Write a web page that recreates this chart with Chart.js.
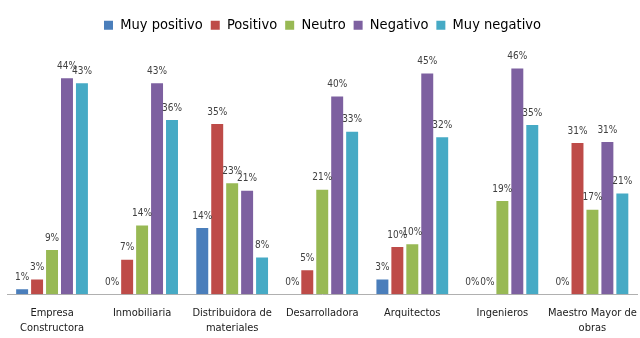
<!DOCTYPE html>
<html lang="es">
<head>
<meta charset="UTF-8">
<title>Opiniones por sector</title>
<script src="https://cdn.jsdelivr.net/npm/chart.js"></script>
<style>
  html, body { margin: 0; padding: 0; background: #fff; }
  #wrap { width: 640px; height: 338px; }
</style>
</head>
<body>
<div id="wrap"><canvas id="myChart" width="640" height="338"></canvas></div>
<script>
// categorias y series (valores en %)
const categorias = [
  ['Empresa', 'Constructora'],
  'Inmobiliaria',
  ['Distribuidora de', 'materiales'],
  'Desarrolladora',
  'Arquitectos',
  'Ingenieros',
  ['Maestro Mayor de', 'obras']
];
const muyPositivo = [1, 0, 13.5, 0, 3, 0, 0];
const positivo    = [3, 7, 34.7, 4.9, 9.6, 0, 30.8];
const neutro      = [9, 14, 22.6, 21.3, 10.2, 19, 17.2];
const negativo    = [44, 43, 21.1, 40.3, 45, 46, 31];
const muyNegativo = [43, 35.5, 7.5, 33.1, 32, 34.5, 20.5];

const fuente = "'Liberation Sans Narrow', 'DejaVu Sans Condensed', sans-serif";

// etiquetas encima de cada barra
const etiquetas = {
  id: 'etiquetas',
  afterDatasetsDraw(chart) {
    const ctx = chart.ctx;
    ctx.save();
    ctx.font = '10px ' + fuente;
    ctx.fillStyle = '#404040';
    ctx.textAlign = 'center';
    ctx.textBaseline = 'middle';
    chart.data.datasets.forEach((ds, i) => {
      chart.getDatasetMeta(i).data.forEach((bar, j) => {
        ctx.fillText(Math.round(ds.data[j]) + '%', bar.x, bar.y - 12);
      });
    });
    ctx.restore();
  }
};

const data = {
  labels: categorias,
  datasets: [
    { label: 'Muy positivo', data: muyPositivo, backgroundColor: '#4a7ebb' },
    { label: 'Positivo', data: positivo, backgroundColor: '#be4b48' },
    { label: 'Neutro', data: neutro, backgroundColor: '#98b954' },
    { label: 'Negativo', data: negativo, backgroundColor: '#7d60a0' },
    { label: 'Muy negativo', data: muyNegativo, backgroundColor: '#46aac5' }
  ]
};

const config = {
  type: 'bar',
  data: data,
  plugins: [etiquetas],
  options: {
    responsive: false,
    animation: false,
    datasets: { bar: { categoryPercentage: 0.83, barPercentage: 0.8 } },
    layout: { padding: { left: 7, right: 2, top: 10, bottom: -1 } },
    plugins: {
      tooltip: { enabled: false },
      legend: {
        position: 'top',
        labels: {
          boxWidth: 9, boxHeight: 9, padding: 8,
          color: '#000',
          font: { family: fuente, size: 14.5 }
        }
      }
    },
    scales: {
      x: {
        grid: { display: false },
        border: { display: true, color: '#b0b0b0', width: 1 },
        ticks: {
          color: '#202020', padding: 3, maxRotation: 0, autoSkip: false,
          font: { family: fuente, size: 11, lineHeight: 1.4 }
        }
      },
      y: {
        display: false,
        min: 0,
        max: 51.3
      }
    }
  }
};

new Chart(document.getElementById('myChart').getContext('2d'), config);
</script>
</body>
</html>
